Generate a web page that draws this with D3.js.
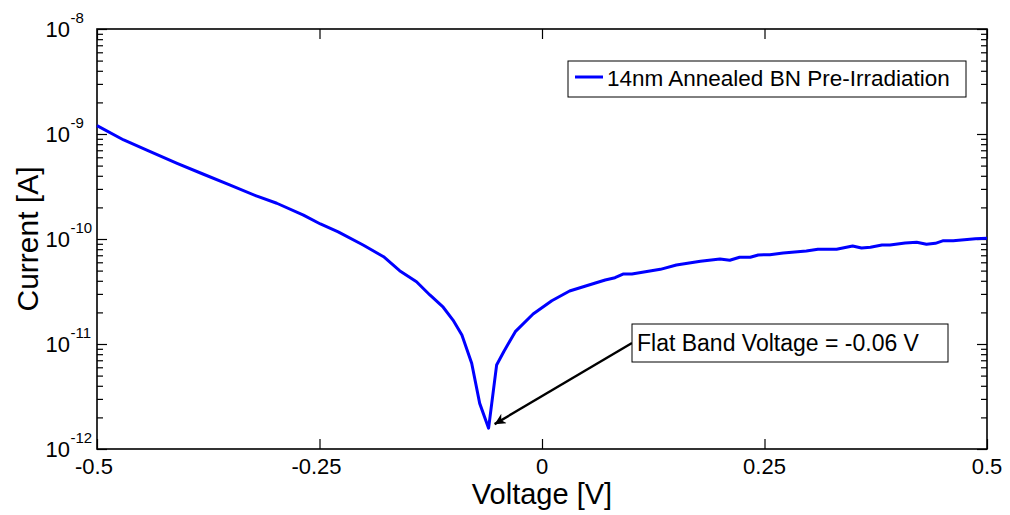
<!DOCTYPE html>
<html>
<head>
<meta charset="utf-8">
<script src="https://cdn.jsdelivr.net/npm/d3@7"></script>
<style>
  html, body { margin: 0; padding: 0; background: #fff; }
  svg { display: block; font-family: "Liberation Sans", Arial, sans-serif; }
</style>
</head>
<body>
<svg id="chart" width="1010" height="515"></svg>
<script>
// ---- data ----
const voltage = [-0.500, -0.470, -0.444, -0.410, -0.381, -0.351, -0.321, -0.298, -0.268, -0.249,
  -0.229, -0.201, -0.178, -0.160, -0.141, -0.126, -0.111, -0.100, -0.090, -0.079,
  -0.070, -0.060, -0.051, -0.043, -0.030, -0.010, 0.011, 0.031, 0.050, 0.071,
  0.082, 0.091, 0.101, 0.133, 0.151, 0.178, 0.200, 0.211, 0.222, 0.234,
  0.243, 0.256, 0.271, 0.297, 0.310, 0.331, 0.349, 0.359, 0.369, 0.382,
  0.391, 0.408, 0.421, 0.432, 0.442, 0.451, 0.462, 0.487, 0.500];
const current = [1.20e-9, 8.77e-10, 7.04e-10, 5.26e-10, 4.16e-10, 3.27e-10, 2.57e-10, 2.19e-10, 1.69e-10, 1.39e-10,
  1.17e-10, 8.77e-11, 6.78e-11, 4.99e-11, 3.92e-11, 2.93e-11, 2.24e-11, 1.69e-11, 1.22e-11, 6.55e-12,
  2.72e-12, 1.58e-12, 6.30e-12, 8.45e-12, 1.31e-11, 1.93e-11, 2.58e-11, 3.20e-11, 3.59e-11, 4.07e-11,
  4.28e-11, 4.64e-11, 4.64e-11, 5.14e-11, 5.65e-11, 6.14e-11, 6.45e-11, 6.27e-11, 6.70e-11, 6.70e-11,
  7.05e-11, 7.09e-11, 7.36e-11, 7.69e-11, 7.98e-11, 7.98e-11, 8.57e-11, 8.20e-11, 8.34e-11, 8.77e-11,
  8.77e-11, 9.16e-11, 9.31e-11, 8.91e-11, 9.10e-11, 9.64e-11, 9.64e-11, 1.007e-10, 1.016e-10];
const xTicks = [-0.5, -0.25, 0, 0.25, 0.5];
const xTickLabels = ["-0.5", "-0.25", "0", "0.25", "0.5"];
const yTickExponents = [-12, -11, -10, -9, -8];
const seriesName = "14nm Annealed BN Pre-Irradiation";
const annotationText = "Flat Band Voltage = -0.06 V";
const flatBand = { v: -0.06, i: 1.58e-12 };

// ---- layout ----
const svg = d3.select("#chart");
const L = 97, R = 987, T = 29, B = 449;
const x = d3.scaleLinear().domain([-0.5, 0.5]).range([L, R]);
const y = d3.scaleLog().domain([1e-12, 1e-8]).range([B, T]);

const majors = yTickExponents.map(e => Math.pow(10, e));
const minors = [];
for (let e = -12; e < -8; e++) for (let k = 2; k <= 9; k++) minors.push(k * Math.pow(10, e));

function styleAxis(g) {
  g.select(".domain").remove();
  g.selectAll("line").attr("stroke", "#000").attr("stroke-width", 1.2);
  g.selectAll("text").remove();
}

// ticks (inward)
svg.append("g").attr("transform", `translate(${L},0)`)
  .call(d3.axisLeft(y).tickValues(majors).tickSize(-10).tickFormat("")).call(styleAxis);
svg.append("g").attr("transform", `translate(${L},0)`)
  .call(d3.axisLeft(y).tickValues(minors).tickSize(-6).tickFormat("")).call(styleAxis);
svg.append("g").attr("transform", `translate(${R},0)`)
  .call(d3.axisRight(y).tickValues(majors).tickSize(-10).tickFormat("")).call(styleAxis);
svg.append("g").attr("transform", `translate(${R},0)`)
  .call(d3.axisRight(y).tickValues(minors).tickSize(-6).tickFormat("")).call(styleAxis);
svg.append("g").attr("transform", `translate(0,${B})`)
  .call(d3.axisBottom(x).tickValues(xTicks).tickSize(-10).tickFormat("")).call(styleAxis);
svg.append("g").attr("transform", `translate(0,${T})`)
  .call(d3.axisTop(x).tickValues(xTicks).tickSize(-10).tickFormat("")).call(styleAxis);

// box
svg.append("rect").attr("x", L).attr("y", T).attr("width", R - L).attr("height", B - T)
  .attr("fill", "none").attr("stroke", "#000").attr("stroke-width", 1.6);

// y tick labels 10^e
const yl = svg.append("g").attr("fill", "#000");
yTickExponents.forEach(e => {
  const yy = y(Math.pow(10, e));
  yl.append("text").attr("x", 70).attr("y", yy + 8).attr("text-anchor", "end")
    .attr("font-size", 22).text("10");
  yl.append("text").attr("x", 70.5).attr("y", yy - 6).attr("text-anchor", "start")
    .attr("font-size", 15).text(String(e));
});

// x tick labels
xTicks.forEach((t, i) => {
  svg.append("text").attr("x", x(t) - (t < 0 ? 3 : 0)).attr("y", 474).attr("text-anchor", "middle")
    .attr("font-size", 22).text(xTickLabels[i]);
});

// axis titles
svg.append("text").attr("x", x(0)).attr("y", 504).attr("text-anchor", "middle")
  .attr("font-size", 29).text("Voltage [V]");
svg.append("text").attr("transform", `translate(38,${(T + B) / 2}) rotate(-90)`)
  .attr("text-anchor", "middle").attr("font-size", 30).text("Current [A]");

// curve
const line = d3.line().x((d, i) => x(voltage[i])).y((d, i) => y(current[i]));
svg.append("path").datum(current).attr("d", line)
  .attr("fill", "none").attr("stroke", "#0000ff").attr("stroke-width", 3)
  .attr("stroke-linejoin", "round");

// legend
const lg = svg.append("g");
lg.append("rect").attr("x", 568).attr("y", 61).attr("width", 398).attr("height", 36)
  .attr("fill", "#fff").attr("stroke", "#000").attr("stroke-width", 1);
lg.append("line").attr("x1", 575).attr("x2", 603).attr("y1", 77).attr("y2", 77)
  .attr("stroke", "#0000ff").attr("stroke-width", 3);
lg.append("text").attr("x", 607).attr("y", 86).attr("font-size", 22.5).text(seriesName);

// annotation arrow
const defs = svg.append("defs");
defs.append("marker").attr("id", "ah").attr("viewBox", "0 0 10 10").attr("refX", 10).attr("refY", 5)
  .attr("markerWidth", 14).attr("markerHeight", 11).attr("markerUnits", "userSpaceOnUse")
  .attr("orient", "auto")
  .append("path").attr("d", "M0,0 L10,5 L0,10 L3,5 Z").attr("fill", "#000");
const tipX = x(flatBand.v) + 6, tipY = y(flatBand.i) - 4;
svg.append("line").attr("x1", 632).attr("y1", 343).attr("x2", tipX).attr("y2", tipY)
  .attr("stroke", "#000").attr("stroke-width", 2.4).attr("marker-end", "url(#ah)");
svg.append("rect").attr("x", 632).attr("y", 324).attr("width", 316).attr("height", 38)
  .attr("fill", "#fff").attr("stroke", "#000").attr("stroke-width", 1);
svg.append("text").attr("x", 637).attr("y", 351).attr("font-size", 23).text(annotationText);
</script>
</body>
</html>
